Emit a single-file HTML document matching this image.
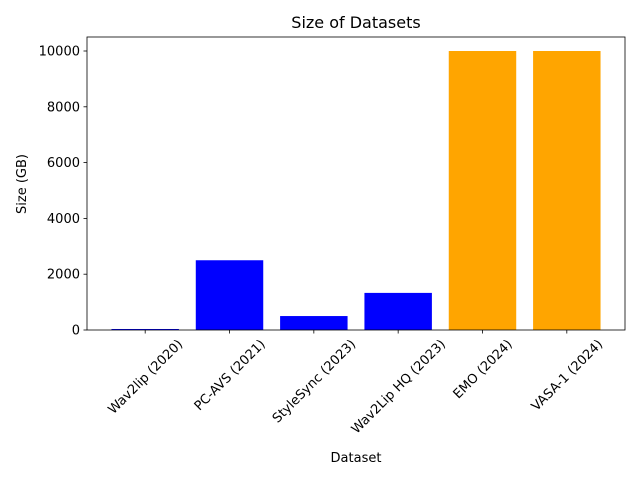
<!DOCTYPE html>
<html><head><meta charset="utf-8"><style>
body{margin:0;background:#fff;font-family:"Liberation Sans","DejaVu Sans",sans-serif}
</style></head><body>
<svg id="chart" width="640" height="480" xmlns="http://www.w3.org/2000/svg" font-family="DejaVu Sans, Liberation Sans, sans-serif"></svg>
<script>
const categories=["Wav2lip (2020)","PC-AVS (2021)","StyleSync (2023)","Wav2Lip HQ (2023)","EMO (2024)","VASA-1 (2024)"];
const sizes=[36,2500,500,1330,10000,10000];
const colors=["blue","blue","blue","blue","orange","orange"];
const yTicks=[0,2000,4000,6000,8000,10000];
const L=87,R=625,T=37,B=330;
const x=i=>L+(i+0.69)*((R-L)/6.38);
const y=v=>B-v*(279/10000);
const bw=0.8*(R-L)/6.38;
const svg=document.getElementById('chart');
const NS="http://www.w3.org/2000/svg";
function mk(t,a,p){const e=document.createElementNS(NS,t);for(const k in a)e.setAttribute(k,a[k]);(p||svg).appendChild(e);return e;}
const title=mk('text',{x:356,y:28,'text-anchor':'middle','font-size':16});title.textContent="Size of Datasets";


sizes.forEach((v,i)=>{
 const r=mk('rect',{x:x(i)-bw/2,y:y(v),width:bw,height:B-y(v),fill:colors[i]});
 
 
 mk('line',{x1:x(i),x2:x(i),y1:B,y2:B+3.5,stroke:'#000','stroke-width':0.8});
 const t=mk('text',{x:0,y:0,'text-anchor':'middle','font-size':13});
 t.textContent=categories[i];
 
 
 const len=t.getComputedTextLength();
 const half=(len+13)*0.7071/2;
 const cx=x(i),cy=B+7+half;
 t.setAttribute('x',cx);t.setAttribute('y',cy+4.5);
 t.setAttribute('transform',`rotate(-45 ${cx} ${cy})`);
});
yTicks.forEach(v=>{
 mk('line',{x1:L-3.5,x2:L,y1:y(v),y2:y(v),stroke:'#000','stroke-width':0.8});
 const t=mk('text',{x:L-7,y:y(v)+4.5,'text-anchor':'end','font-size':13});
 t.textContent=v;
 
 
});
const frame=mk('rect',{x:L,y:T,width:R-L,height:B-T,fill:'none',stroke:'#000','stroke-width':0.8});


const xl=mk('text',{x:356,y:462,'text-anchor':'middle','font-size':13});xl.textContent="Dataset";


const yl=mk('text',{x:26,y:184,'text-anchor':'middle','font-size':13,transform:'rotate(-90 26 184)'});yl.textContent="Size (GB)";


</script>
</body></html>
